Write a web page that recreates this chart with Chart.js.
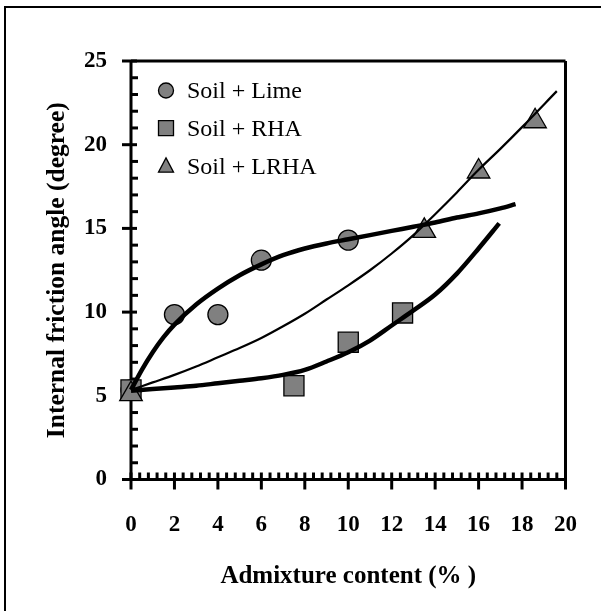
<!DOCTYPE html>
<html><head><meta charset="utf-8">
<script src="https://cdn.jsdelivr.net/npm/chart.js@4.4.1/dist/chart.umd.min.js"></script>
<style>html,body{margin:0;padding:0;background:#fff;overflow:hidden}</style>
</head><body><canvas id="c" width="601" height="611"></canvas>
<script>
// ---- data ----
const seriesNames = ['Soil + Lime', 'Soil + RHA', 'Soil + LRHA'];
const xTickValues = [0, 2, 4, 6, 8, 10, 12, 14, 16, 18, 20];
const yTickValues = [0, 5, 10, 15, 20, 25];
const xMinorStep = 0.4;
const yMinorStep = 1;

// measured points
const limeX = [0, 2, 4, 6, 10];
const limeY = [5.35, 9.85, 9.85, 13.1, 14.3];
const rhaX = [0, 7.5, 10, 12.5];
const rhaY = [5.35, 5.6, 8.2, 9.95];
const lrhaX = [0, 13.5, 16, 18.6];
const lrhaY = [5.1, 14.85, 18.4, 21.4];

// trend curves
const limeTrendX = [0, 0.5, 1, 1.5, 2, 3, 4, 5, 6, 7, 8, 9, 10, 11, 12, 13, 14, 15, 16, 17, 17.7];
const limeTrendY = [5.35, 6.55, 7.6, 8.5, 9.25, 10.45, 11.4, 12.2, 12.85, 13.4, 13.8, 14.1, 14.35, 14.6, 14.85, 15.1, 15.35, 15.65, 15.9, 16.2, 16.45];
const rhaTrendX = [0, 1, 2, 3, 4, 5, 6, 7, 8, 9, 10, 11, 12, 13, 14, 15, 16, 16.95];
const rhaTrendY = [5.3, 5.4, 5.5, 5.6, 5.75, 5.9, 6.05, 6.25, 6.55, 7.05, 7.6, 8.3, 9.2, 10.1, 11.05, 12.3, 13.8, 15.3];
const lrhaTrendX = [0, 1, 2, 3, 4, 5, 6, 7, 8, 9, 10, 11, 12, 13, 14, 15, 16, 17, 18, 19.6];
const lrhaTrendY = [5.35, 5.8, 6.25, 6.75, 7.3, 7.85, 8.45, 9.15, 9.9, 10.75, 11.6, 12.5, 13.5, 14.6, 15.85, 17.15, 18.5, 19.75, 21.05, 23.2];

const pts = (xs, ys) => xs.map((x, i) => ({x: x, y: ys[i]}));
const MARK_FILL = '#808080';
const SERIF = '"Liberation Serif", "Times New Roman", serif';

const markerStyles = ['circle', 'rect', 'triangle'];
const markerRadius = [10, 14.2, 13];

const framePlugin = {
  id: 'frame',
  beforeDatasetsDraw(chart) {
    const {ctx, chartArea: a, scales: {x, y}} = chart;
    ctx.save();
    ctx.strokeStyle = '#000';
    ctx.lineCap = 'butt';
    // outer picture border (only left/top are inside the crop)
    ctx.lineWidth = 2;
    ctx.strokeRect(5, 7, 700, 700);
    ctx.lineWidth = 3;
    const seg = (x1, y1, x2, y2) => { ctx.beginPath(); ctx.moveTo(x1, y1); ctx.lineTo(x2, y2); ctx.stroke(); };
    // minor ticks
    for (let v = yMinorStep; v < 25; v += yMinorStep) {
      if (yTickValues.includes(Math.round(v * 10) / 10)) continue;
      const py = y.getPixelForValue(v);
      seg(a.left, py, a.left + 7, py);
    }
    for (let v = xMinorStep; v < 20 - 1e-6; v += xMinorStep) {
      const r = Math.round(v * 10) / 10;
      if (xTickValues.includes(r)) continue;
      const px = x.getPixelForValue(r);
      seg(px, a.bottom, px, a.bottom - 7);
    }
    // major ticks
    yTickValues.forEach(v => { const py = y.getPixelForValue(v); seg(a.left - 9, py, a.left + 6, py); });
    xTickValues.forEach(v => { const px = x.getPixelForValue(v); seg(px, a.bottom + 10, px, a.bottom - 7); });
    // frame
    seg(a.left, a.top, a.right, a.top);
    seg(a.right, a.top, a.right, a.bottom);
    seg(a.left, a.top, a.left, a.bottom);
    seg(a.left, a.bottom, a.right, a.bottom);
    ctx.restore();
  }
};

function drawMarker(ctx, style, cx, cy, r) {
  ctx.beginPath();
  if (style === 'circle') {
    ctx.arc(cx, cy, r, 0, Math.PI * 2);
  } else if (style === 'rect') {
    ctx.rect(cx - r, cy - r, 2 * r, 2 * r);
  } else {
    ctx.moveTo(cx, cy - r * 1.15);
    ctx.lineTo(cx + r, cy + r * 0.75);
    ctx.lineTo(cx - r, cy + r * 0.75);
    ctx.closePath();
  }
  ctx.fill();
  ctx.stroke();
}

const legendPlugin = {
  id: 'insideLegend',
  afterDraw(chart) {
    const {ctx} = chart;
    const rowsY = [97.5, 135.5, 173.5];
    const markY = [90.5, 128.2, 166.5];
    ctx.save();
    ctx.strokeStyle = '#000';
    ctx.lineWidth = 1.3;
    seriesNames.forEach((name, i) => {
      ctx.fillStyle = MARK_FILL;
      drawMarker(ctx, markerStyles[i], 166, markY[i], 7.5);
      ctx.fillStyle = '#000';
      ctx.font = '24px ' + SERIF;
      ctx.textBaseline = 'alphabetic';
      ctx.textAlign = 'left';
      ctx.fillText(name, 187, rowsY[i]);
    });
    ctx.restore();
  }
};

const lineDs = (xs, ys, w, ord) => ({
  type: 'line', data: pts(xs, ys), borderColor: '#000', borderWidth: w,
  pointRadius: 0, showLine: true, fill: false, cubicInterpolationMode: 'monotone',
  order: ord, clip: false, borderCapStyle: 'butt', borderJoinStyle: 'round'
});
const markDs = (label, xs, ys, i, ord) => ({
  type: 'scatter', label: label, data: pts(xs, ys), showLine: false,
  pointStyle: markerStyles[i], pointRadius: markerRadius[i], pointHoverRadius: markerRadius[i],
  backgroundColor: MARK_FILL, borderColor: '#000', pointBorderWidth: 1.3, borderWidth: 1.3,
  order: ord, clip: false
});

new Chart(document.getElementById('c'), {
  type: 'scatter',
  data: {
    datasets: [
      markDs(seriesNames[0], limeX, limeY, 0, 6),
      markDs(seriesNames[1], rhaX, rhaY, 1, 5),
      markDs(seriesNames[2], lrhaX, lrhaY, 2, 4),
      lineDs(limeTrendX, limeTrendY, 4.5, 3),
      lineDs(rhaTrendX, rhaTrendY, 4.5, 2),
      lineDs(lrhaTrendX, lrhaTrendY, 2.2, 1)
    ]
  },
  options: {
    responsive: false,
    devicePixelRatio: 1,
    animation: false,
    events: [],
    layout: {padding: {left: 0, top: 61, right: 34, bottom: 0}},
    plugins: {legend: {display: false}, tooltip: {enabled: false}},
    scales: {
      x: {
        type: 'linear', min: 0, max: 20,
        afterBuildTicks: s => { s.ticks = xTickValues.map(v => ({value: v})); },
        afterFit: s => { s.height = 131.5; },
        grid: {display: false}, border: {display: false},
        ticks: {color: '#000', padding: 24, maxRotation: 0, autoSkip: false,
          font: {family: SERIF, size: 23, weight: 'bold'}},
        title: {display: true, text: 'Admixture content (% )', color: '#000',
          font: {family: SERIF, size: 25, weight: 'bold'}, padding: {top: 0, bottom: 19}}
      },
      y: {
        type: 'linear', min: 0, max: 25,
        afterBuildTicks: s => { s.ticks = yTickValues.map(v => ({value: v})); },
        afterFit: s => { s.width = 131; },
        grid: {display: false}, border: {display: false},
        ticks: {color: '#000', padding: 16, autoSkip: false,
          font: {family: SERIF, size: 23, weight: 'bold'}},
        title: {display: true, text: 'Internal friction angle (degree)', color: '#000',
          font: {family: SERIF, size: 25.5, weight: 'bold'}, padding: {top: 42, bottom: 0}}
      }
    }
  },
  plugins: [framePlugin, legendPlugin]
});
</script>
</body></html>
